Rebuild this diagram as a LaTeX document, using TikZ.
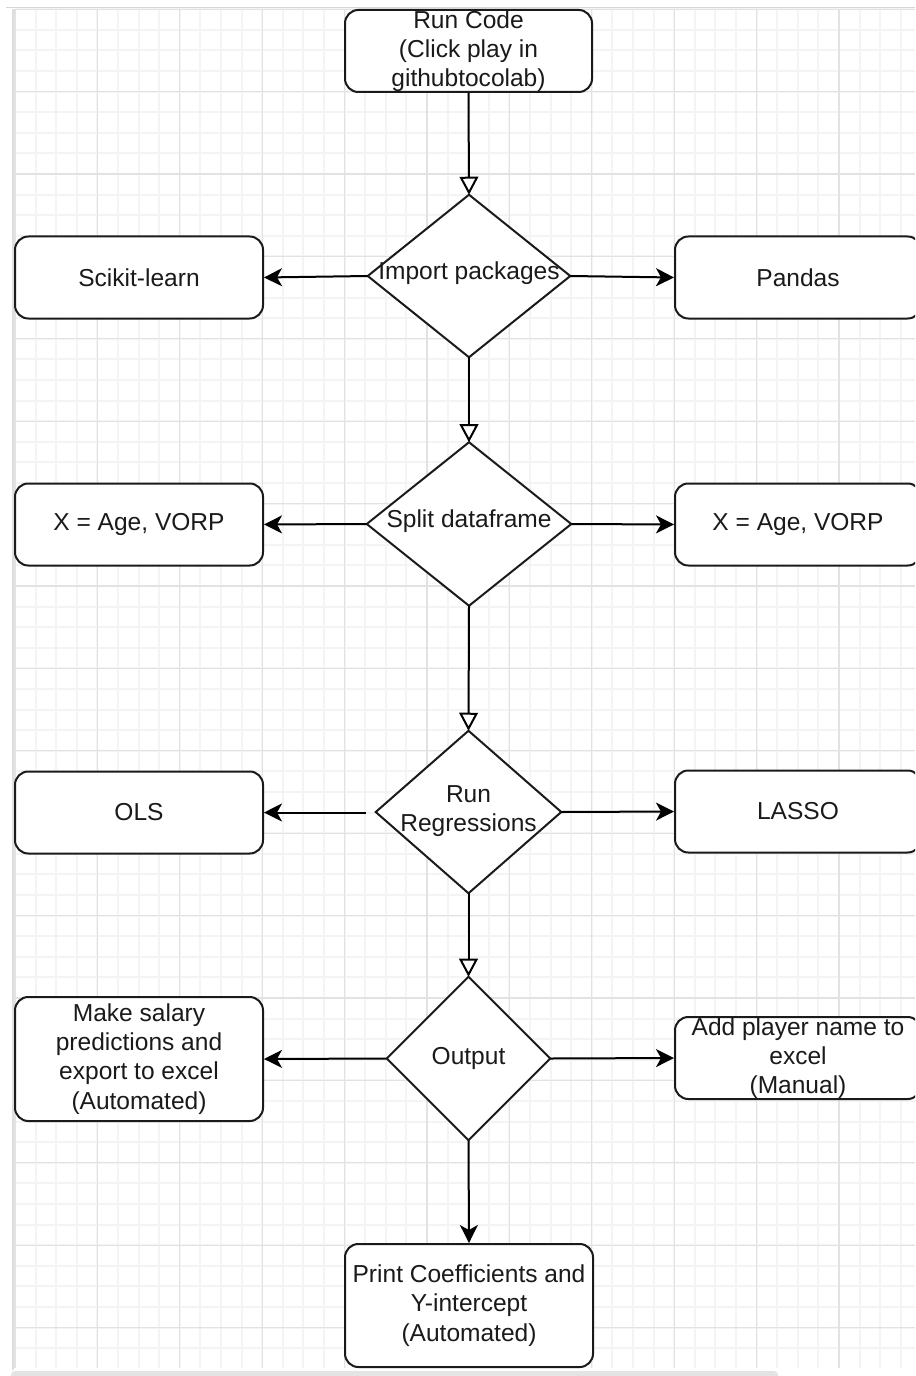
\documentclass[tikz,border=0pt]{standalone}
\usepackage{fontspec}
\setmainfont{Liberation Sans}
\usetikzlibrary{arrows.meta}
\definecolor{minorgrid}{RGB}{244,244,244}
\definecolor{majorgrid}{RGB}{226,226,226}
\definecolor{framegray}{RGB}{214,214,214}
\definecolor{bargray}{RGB}{228,228,228}
\definecolor{ink}{RGB}{26,26,26}
\tikzset{
  box/.style={draw=ink, line width=1.5pt, fill=white, rounded corners=10pt,
    inner sep=0pt, align=center, text=ink,
    font=\fontsize{18.4}{21.9}\selectfont},
  dia/.style={inner sep=0pt, align=center, text=ink,
    font=\fontsize{18.4}{21.9}\selectfont},
  diashape/.style={draw=ink, line width=1.5pt, fill=white, line join=miter},
  flow/.style={draw=black, line width=1.5pt, -{Stealth[length=13.5pt, width=13.5pt, inset=3.75pt]}},
  openflow/.style={draw=black, line width=1.5pt, -{Triangle[open, length=13.5pt, width=14pt, fill=white]}},
}
\begin{document}
\begin{tikzpicture}[x=0.75pt, y=-0.75pt]
\useasboundingbox (0,0) rectangle (915,1376);
\clip (0,0) rectangle (915,1376);
\fill[white] (0,0) rectangle (915,1376);
% grid
\foreach \i in {0,...,43}{
  \pgfmathsetmacro\xx{15+20.6*\i}
  \draw[minorgrid, line width=1.4pt] (\xx,9) -- (\xx,1368);
}
\foreach \i in {0,...,65}{
  \pgfmathsetmacro\yy{9.2+20.6*\i}
  \draw[minorgrid, line width=1.4pt] (15,\yy) -- (915,\yy);
}
\foreach \i in {0,4,...,40}{
  \pgfmathsetmacro\xx{15+20.6*\i}
  \draw[majorgrid, line width=1pt] (\xx,9) -- (\xx,1368);
}
\foreach \i in {0,4,...,64}{
  \pgfmathsetmacro\yy{9.2+20.6*\i}
  \draw[majorgrid, line width=1pt] (15,\yy) -- (915,\yy);
}
% frame
\draw[framegray, line width=1pt] (6,7.5) -- (915,7.5);
\draw[framegray!80, line width=1.6pt] (13,9) -- (13,1370);
\fill[bargray, rounded corners=3pt] (11,1371) rectangle (778,1380);

% nodes
\node[box, minimum width=185.25pt, minimum height=61.5pt] (rc) at (468.5,51)
  {Run Code\\(Click play in\\githubtocolab)};

\node[dia, minimum width=151.5pt, minimum height=121.5pt] (imp) at (469,276) {};
\draw[diashape] (imp.north) -- (imp.east) -- (imp.south) -- (imp.west) -- cycle;
\node[dia] (impt) at (469,273) {Import packages};

\node[box, minimum width=186pt, minimum height=61.5pt] (sk) at (139,277.5) {Scikit-learn};
\node[box, minimum width=184.5pt, minimum height=61.5pt] (pd) at (798,277.5) {Pandas};

\node[dia, minimum width=153pt, minimum height=122.25pt] (spl) at (469,524) {};
\draw[diashape] (spl.north) -- (spl.east) -- (spl.south) -- (spl.west) -- cycle;
\node[dia] (splt) at (469,521) {Split dataframe};

\node[box, minimum width=186pt, minimum height=61.5pt] (xl) at (139,524.5) {X = Age, VORP};
\node[box, minimum width=184.5pt, minimum height=61.5pt] (xr) at (798,524.5) {X = Age, VORP};

\node[dia, minimum width=138.75pt, minimum height=121.5pt] (reg) at (468.5,812) {};
\draw[diashape] (reg.north) -- (reg.east) -- (reg.south) -- (reg.west) -- cycle;
\node[dia] (regt) at (468.5,811) {Run\\Regressions};

\node[box, minimum width=186pt, minimum height=61.5pt] (ols) at (139,812.5) {OLS};
\node[box, minimum width=184.5pt, minimum height=61.5pt] (lasso) at (798,811.5) {LASSO};

\node[dia, minimum width=122.25pt, minimum height=122.25pt] (out) at (468.5,1058.5) {};
\draw[diashape] (out.north) -- (out.east) -- (out.south) -- (out.west) -- cycle;
\node[dia] (outt) at (468.5,1058) {Output};

\node[box, minimum width=186pt, minimum height=93pt] (ms) at (139,1059)
  {Make salary\\predictions and\\export to excel\\(Automated)};
\node[box, minimum width=184.5pt, minimum height=61.5pt] (ap) at (798,1058)
  {Add player name to\\excel\\(Manual)};

\node[box, minimum width=186pt, minimum height=92.25pt] (pr) at (469,1305.5)
  {Print Coefficients and\\Y-intercept\\(Automated)};

\coordinate (regL) at (366,812.5);

% connectors
\draw[openflow] (rc.south) -- (imp.north);
\draw[flow] (imp.west) -- (sk.east);
\draw[flow] (imp.east) -- (pd.west);
\draw[openflow] (imp.south) -- (spl.north);
\draw[flow] (spl.west) -- (xl.east);
\draw[flow] (spl.east) -- (xr.west);
\draw[openflow] (spl.south) -- (reg.north);
\draw[flow] (regL) -- (ols.east);
\draw[flow] (reg.east) -- (lasso.west);
\draw[openflow] (reg.south) -- (out.north);
\draw[flow] (out.west) -- (ms.east);
\draw[flow] (out.east) -- (ap.west);
\draw[flow] (out.south) -- (pr.north);
\end{tikzpicture}
\end{document}
